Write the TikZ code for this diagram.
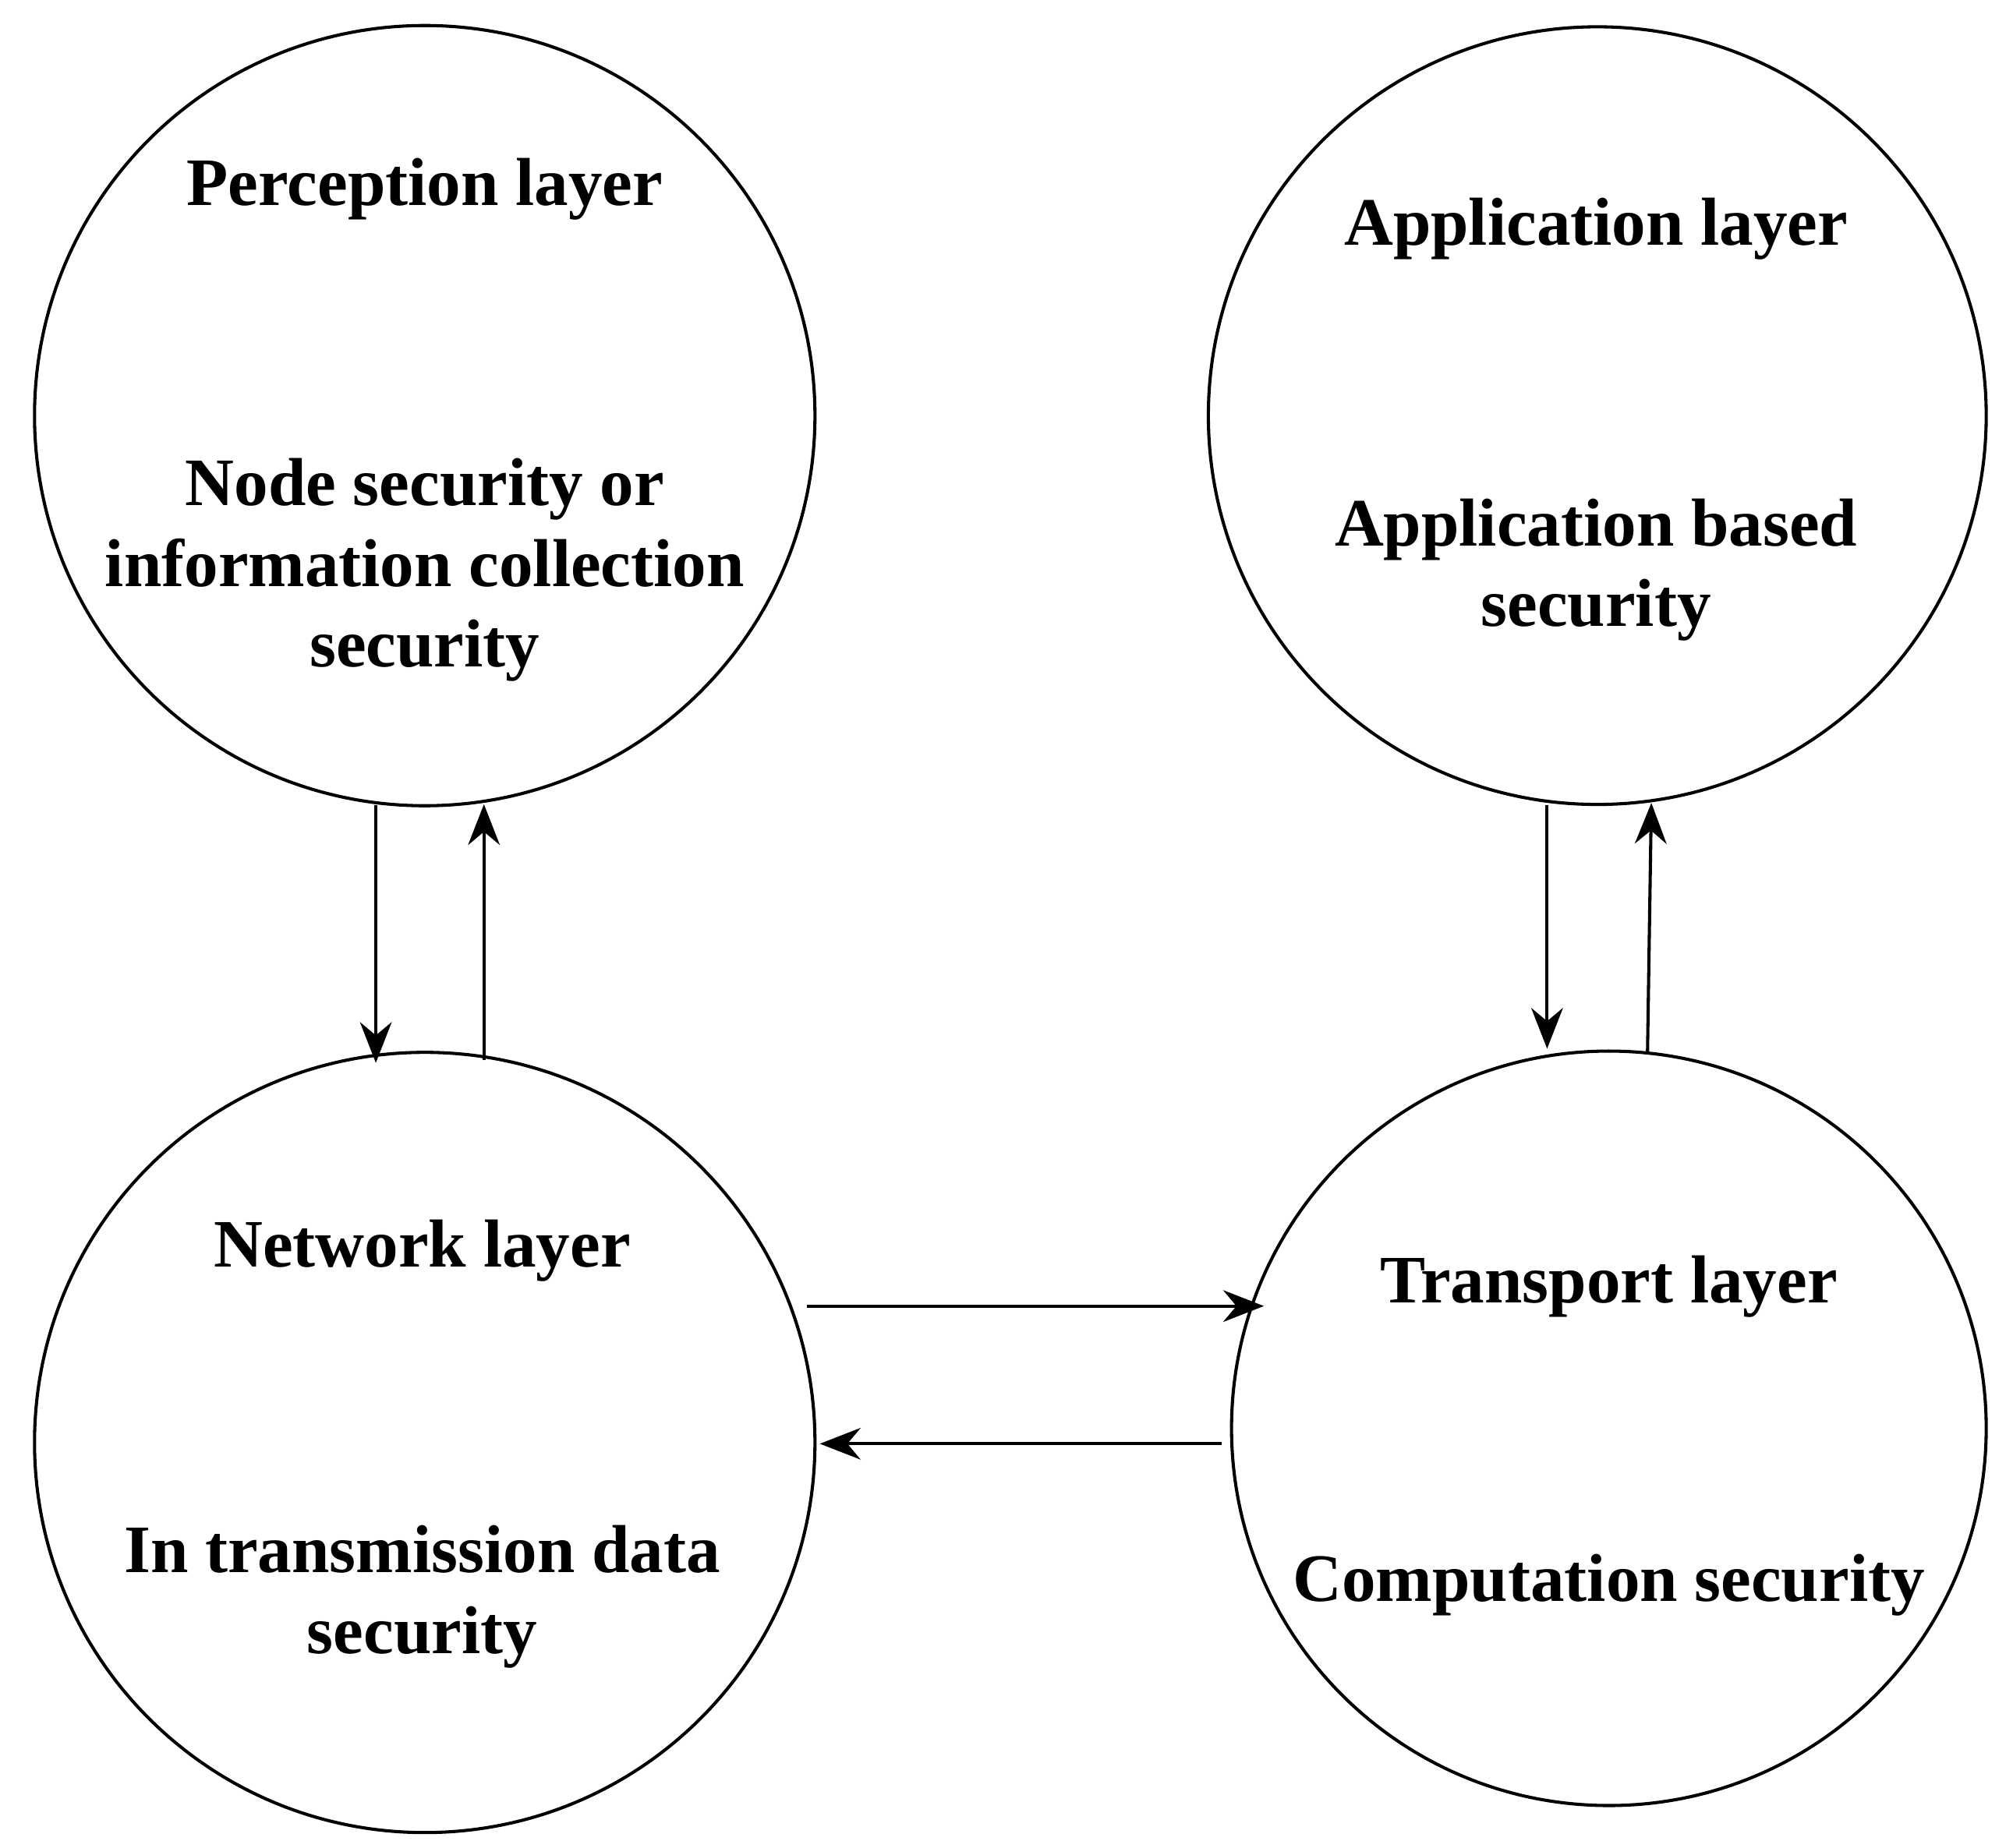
\documentclass[tikz,border=0pt]{standalone}
\usepackage{fontspec}
\setmainfont{Liberation Serif}
\usetikzlibrary{arrows.meta}
\begin{document}
\begin{tikzpicture}[x=0.01cm,y=-0.01cm,
  layer/.style={draw,circle,line width=0.7pt,inner sep=0pt},
  lbl/.style={font=\fontsize{15pt}{17.8pt}\selectfont\bfseries,align=center},
  arr/.style={line width=0.7pt,-{Stealth[length=9pt,width=7pt]}}]
\useasboundingbox (0,0) rectangle (1564,1436);
\node[layer,minimum size=6.06cm] (perc) at (330,323) {};
\node[layer,minimum size=6.04cm] (appl) at (1241,323) {};
\node[layer,minimum size=6.06cm] (netw) at (330,1121) {};
\node[layer,minimum size=5.86cm] (tran) at (1250,1110) {};
\node[lbl] (t1) at (330,147) {Perception layer};
\node[lbl] (t2) at (330,443) {Node security or\\information collection\\security};
\node[lbl] (t3) at (1240,178) {Application layer};
\node[lbl] (t4) at (1240,443) {Application based\\security};
\node[lbl] (t5) at (328,972) {Network layer};
\node[lbl] (t6) at (328,1241) {In transmission data\\security};
\node[lbl] (t7) at (1250,1000) {Transport layer};
\node[lbl] (t8) at (1250,1232) {Computation security};
\coordinate (a1) at (292,626); \coordinate (b1) at (292,826);
\coordinate (a2) at (376,824); \coordinate (b2) at (376,625);
\coordinate (a3) at (1202,626); \coordinate (b3) at (1202,815);
\coordinate (a4) at (1280,819); \coordinate (b4) at (1283,624);
\coordinate (a5) at (627,1015); \coordinate (b5) at (982,1015);
\coordinate (a6) at (949,1122); \coordinate (b6) at (637,1122);
\draw[arr] (a1) -- (b1);
\draw[arr] (a2) -- (b2);
\draw[arr] (a3) -- (b3);
\draw[arr] (a4) -- (b4);
\draw[arr] (a5) -- (b5);
\draw[arr] (a6) -- (b6);
\end{tikzpicture}
\end{document}
